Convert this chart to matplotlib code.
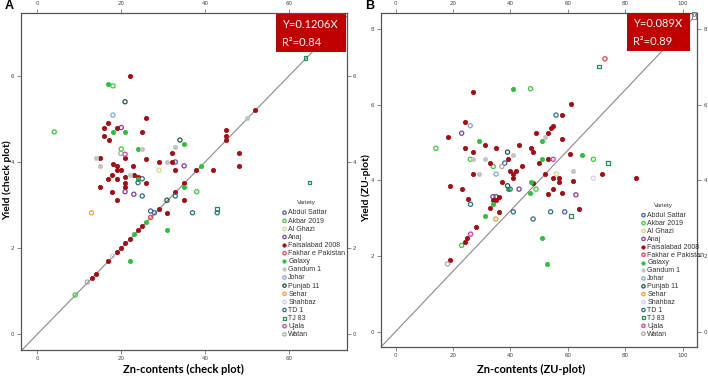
import matplotlib
matplotlib.use('Agg')
import matplotlib.pyplot as plt
from matplotlib.patches import Rectangle

# varieties in legend order
varieties = ['Abdul Sattar', 'Akbar 2019', 'Al Ghazi', 'Anaj', 'Faisalabad 2008',
             'Fakhar e Pakistan', 'Galaxy', 'Gandum 1', 'Johar', 'Punjab 11',
             'Sehar', 'Shahbaz', 'TD 1', 'TJ 83', 'Ujala', 'Watan']
colors = ['#3f5fa8', '#3ec83e', '#d6d68c', '#8a3aa0', '#a50c15',
          '#f04050', '#2fc040', '#c4c4c4', '#7fa8dc', '#1e5a3c',
          '#f0a030', '#dcc8f0', '#2a7090', '#20905a', '#d040a0', '#a8a8a8']
filled = [False, False, False, False, True,
          False, True, True, False, False,
          False, False, False, False, False, False]
shapes = ['o'] * 13 + ['s', 'o', 'o']

# panel A: check plot
check_zn = {
    'Abdul Sattar': [32.9, 25.0, 27.0, 27.9],
    'Akbar 2019': [4.0, 18.0, 20.0, 38.0, 9.0],
    'Al Ghazi': [29.0],
    'Anaj': [20.0, 35.0, 20.9, 23.0],
    'Faisalabad 2008': [22.0, 52.0, 26.0, 16.9, 15.9, 19.0, 25.0, 15.9, 17.0, 45.1,
                        45.1, 45.1, 32.0, 48.0, 14.9, 20.9, 26.0, 18.0, 19.0, 29.0,
                        32.0, 48.0, 37.9, 41.9, 19.0, 20.0, 32.9, 22.9, 17.9, 23.0,
                        16.9, 19.0, 20.9, 24.0, 20.9, 26.0, 35.0, 14.9, 20.9, 17.9,
                        32.9, 19.0, 34.9, 28.9, 30.9, 24.9, 24.0, 22.0, 20.9, 20.0,
                        19.0, 16.9, 14.0, 12.9],
    'Fakhar e Pakistan': [27.0],
    'Galaxy': [16.9, 18.0, 20.9, 35.0, 23.9, 39.0, 24.0, 34.9, 26.0, 30.9, 23.0, 22.0],
    'Gandum 1': [50.0, 25.0, 32.9, 14.0, 14.9, 31.0, 22.0],
    'Johar': [18.0],
    'Punjab 11': [20.9, 34.0, 30.9],
    'Sehar': [12.9],
    'Shahbaz': [17.9],
    'TD 1': [24.0, 25.0, 32.9, 37.0, 42.9],
    'TJ 83': [64.0, 64.9, 42.9],
    'Ujala': [20.9],
    'Watan': [11.9, 19.9],
}
check_yield = {
    'Abdul Sattar': [4.0, 3.61, 2.86, 2.82],
    'Akbar 2019': [4.70, 5.77, 4.30, 3.31, 0.91],
    'Al Ghazi': [3.81],
    'Anaj': [4.80, 3.91, 3.31, 3.25],
    'Faisalabad 2008': [6.0, 5.21, 5.02, 4.90, 4.80, 4.80, 4.70, 4.60, 4.51, 4.74,
                        4.60, 4.51, 4.20, 4.20, 4.10, 4.10, 4.08, 3.95, 3.91, 4.0,
                        4.0, 3.91, 3.81, 3.81, 3.81, 3.81, 3.81, 3.91, 3.70, 3.70,
                        3.61, 3.61, 3.66, 3.66, 3.52, 3.52, 3.52, 3.41, 3.41, 3.31,
                        3.31, 3.11, 3.11, 2.91, 2.82, 2.51, 2.42, 2.22, 2.11, 2.01,
                        1.91, 1.71, 1.40, 1.30],
    'Fakhar e Pakistan': [2.71],
    'Galaxy': [5.82, 4.70, 4.70, 4.41, 4.30, 3.91, 3.61, 3.41, 2.61, 2.42, 2.32, 1.71],
    'Gandum 1': [5.02, 4.30, 4.36, 4.10, 3.91, 4.0, 3.70],
    'Johar': [5.09],
    'Punjab 11': [5.40, 4.51, 3.11],
    'Sehar': [2.82],
    'Shahbaz': [1.81],
    'TD 1': [3.52, 3.21, 3.21, 2.82, 2.82],
    'TJ 83': [6.41, 3.52, 2.91],
    'Ujala': [4.18],
    'Watan': [1.21, 4.20],
}

# panel B: ZU plot
zu_zn = {
    'Abdul Sattar': [38.0, 35.0, 58.9],
    'Akbar 2019': [47.0, 14.0, 26.0, 68.9, 34.0, 48.9, 23.0],
    'Al Ghazi': [56.0],
    'Anaj': [23.0, 43.0, 62.8, 33.9],
    'Faisalabad 2008': [27.0, 61.0, 57.9, 24.0, 54.9, 54.0, 48.9, 53.0, 18.1, 57.9,
                        31.0, 43.0, 24.0, 35.0, 47.0, 27.0, 47.9, 60.8, 53.0, 39.0,
                        33.0, 49.9, 44.0, 39.9, 42.0, 41.0, 27.0, 51.9, 71.8, 83.8,
                        41.0, 47.9, 36.9, 54.9, 56.9, 56.9, 61.9, 19.0, 54.9, 23.0,
                        53.0, 57.8, 36.0, 25.1, 33.9, 35.0, 32.9, 63.9, 36.0, 28.1,
                        25.0, 24.0, 19.0],
    'Fakhar e Pakistan': [72.9],
    'Galaxy': [41.0, 29.0, 51.0, 64.9, 51.0, 47.0, 39.0, 46.9, 34.0, 31.0, 51.0, 52.8],
    'Gandum 1': [52.0, 41.0, 27.0, 31.0, 29.0, 61.9],
    'Johar': [26.0, 35.0],
    'Punjab 11': [39.0, 39.0],
    'Sehar': [34.9],
    'Shahbaz': [68.9],
    'TD 1': [55.9, 39.9, 26.1, 41.0, 54.0, 47.9],
    'TJ 83': [70.8, 73.9, 61.0],
    'Ujala': [54.9, 26.1],
    'Watan': [37.0, 18.1],
}
zu_yield = {
    'Abdul Sattar': [4.46, 3.57, 3.17],
    'Akbar 2019': [6.43, 4.85, 4.56, 4.56, 4.37, 3.77, 2.28],
    'Al Ghazi': [4.17],
    'Anaj': [5.25, 3.77, 3.62, 3.57],
    'Faisalabad 2008': [6.33, 6.03, 5.73, 5.55, 5.45, 5.38, 5.25, 5.25, 5.15, 5.11,
                        4.95, 4.95, 4.85, 4.85, 4.85, 4.75, 4.75, 4.69, 4.56, 4.56,
                        4.46, 4.46, 4.37, 4.25, 4.25, 4.17, 4.17, 4.17, 4.17, 4.06,
                        4.06, 3.93, 3.96, 4.06, 4.06, 3.96, 3.99, 3.86, 3.77, 3.77,
                        3.63, 3.67, 3.56, 3.51, 3.47, 3.47, 3.26, 3.25, 3.17, 2.78,
                        2.49, 2.38, 1.89],
    'Fakhar e Pakistan': [7.22],
    'Galaxy': [6.41, 5.05, 5.05, 4.67, 4.56, 3.96, 3.77, 3.67, 3.37, 3.06, 2.49, 1.79],
    'Gandum 1': [5.15, 4.67, 4.56, 4.56, 4.17, 4.26],
    'Johar': [5.45, 4.17],
    'Punjab 11': [4.75, 3.86],
    'Sehar': [2.98],
    'Shahbaz': [4.06],
    'TD 1': [5.73, 3.77, 3.37, 3.17, 3.17, 2.98],
    'TJ 83': [7.02, 4.46, 3.06],
    'Ujala': [4.56, 2.58],
    'Watan': [4.37, 1.79],
}

W, H = 708, 379
fig = plt.figure(figsize=(W / 100, H / 100), dpi=100)
label_font = ['Lato', 'DejaVu Sans']
legend_font = ['Liberation Sans', 'DejaVu Sans']


def px(x0, y0, x1, y1):
    # pixel box -> figure fraction [left, bottom, width, height]
    return [x0 / W, 1 - y1 / H, (x1 - x0) / W, (y1 - y0) / H]


def draw_panel(rect, zn, yld, xlim, ylim, xticks, yticks, slope, eq, r2,
               xlabel, ylabel, letter, box_px, legend_px, lab_spacing,
               title_px, ylab_xy, xlab_cx):
    ax = fig.add_axes(px(*rect))
    handles = []
    for v, c, f, m in zip(varieties, colors, filled, shapes):
        size = 9 if m == 'o' else 7
        if f:
            h = ax.scatter(zn[v], yld[v], s=size, marker=m, facecolor=c,
                           edgecolor=c, linewidth=0.6, zorder=3)
        else:
            h = ax.scatter(zn[v], yld[v], s=size, marker=m, facecolor='none',
                           edgecolor=c, linewidth=0.9, zorder=3)
        handles.append(h)
    ax.axline((0, 0), slope=slope, color='#8a8a8a', lw=0.8, zorder=2)
    ax.set_xlim(*xlim)
    ax.set_ylim(*ylim)
    ax.set_xticks(xticks)
    ax.set_yticks(yticks)
    ax.tick_params(which='both', direction='out', length=3, width=0.6,
                   color='#777777', labelsize=4, labelcolor='#444444', pad=1.5,
                   top=True, right=True, labeltop=True, labelright=True)
    for s in ax.spines.values():
        s.set_color('#555555')
        s.set_linewidth(0.9)
    ax.set_xlabel(xlabel, fontsize=8, fontweight='bold', family=label_font)
    ax.set_ylabel(ylabel, fontsize=7.5, fontweight='bold', family=label_font)
    # ylabel anchor is the right edge of the rotated text
    ax.yaxis.set_label_coords(ylab_xy[0] / W, 1 - ylab_xy[1] / H,
                              transform=fig.transFigure)
    ax.xaxis.set_label_coords(xlab_cx / W, 1 - 364 / H, transform=fig.transFigure)

    # equation box
    bx0, by0, bx1, by1 = box_px
    fig.patches.append(Rectangle((bx0 / W, 1 - by1 / H), (bx1 - bx0) / W,
                                 (by1 - by0) / H, transform=fig.transFigure,
                                 facecolor='#c00000', edgecolor='none', zorder=5))
    fig.text((bx0 + 6) / W, 1 - (by0 + 10) / H, eq, color='white', fontsize=8,
             family=label_font, va='center', ha='left', zorder=6)
    fig.text((bx0 + 6) / W, 1 - (by0 + 28) / H, r2, color='white', fontsize=8,
             family=label_font, va='center', ha='left', zorder=6)

    fig.text((rect[0] - 16) / W, 1 - 6 / H, letter, fontsize=9, fontweight='bold',
             family=legend_font, va='center', ha='left')

    leg = ax.legend(handles, varieties, loc='upper left',
                    bbox_to_anchor=(legend_px[0] / W, 1 - legend_px[1] / H),
                    bbox_transform=fig.transFigure, frameon=False,
                    prop={'family': legend_font, 'size': 5},
                    handletextpad=0.05, labelspacing=lab_spacing, borderpad=0,
                    borderaxespad=0, handlelength=1.0, markerscale=0.8)
    for t in leg.get_texts():
        t.set_color('#333333')
    fig.text(title_px[0] / W, 1 - title_px[1] / H, 'Variety', fontsize=4.5,
             family=legend_font, color='#333333', ha='center', va='center')
    return ax


draw_panel((20.7, 12.7, 346.7, 350), check_zn, check_yield,
           (-4, 73.8), (-0.37, 7.47), [0, 20, 40, 60], [0, 2, 4, 6], 0.1,
           'Y=0.1206X', 'R²=0.84', 'Zn-contents (check plot)', 'Yield (check plot)',
           'A', (276, 14, 345.7, 51.7), (281, 209.5), 0.16, (306, 202.7),
           (12.5, 180), 183)

draw_panel((380.7, 12.7, 697, 346.7), zu_zn, zu_yield,
           (-5.2, 105), (-0.4, 8.44), [0, 20, 40, 60, 80, 100], [0, 2, 4, 6, 8], 0.08,
           'Y=0.089X', 'R²=0.89', 'Zn-contents (ZU-plot)', 'Yield (ZU-plot)',
           'B', (627.3, 13.3, 690, 51), (640, 212), 0.13, (663, 205),
           (371.5, 188), 531)

# small leftover label box in the corner of panel B
fig.text(694 / W, 1 - 15.5 / H, '0', fontsize=3.5, ha='center', va='center',
         family=legend_font,
         bbox=dict(boxstyle='square,pad=0.15', facecolor='white', edgecolor='#555555',
                   linewidth=0.5))

fig.savefig('out.png', dpi=100)
